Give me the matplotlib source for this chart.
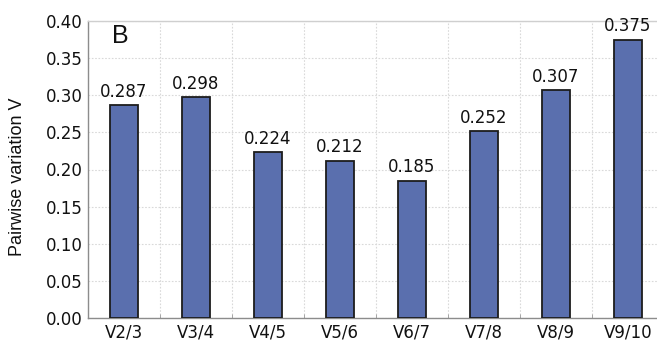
import matplotlib
matplotlib.use("Agg")
import matplotlib.pyplot as plt
import numpy as np

categories = ["V2/3", "V3/4", "V4/5", "V5/6", "V6/7", "V7/8", "V8/9", "V9/10"]
values = [0.287, 0.298, 0.224, 0.212, 0.185, 0.252, 0.307, 0.375]
ytick_values = [0.00, 0.05, 0.10, 0.15, 0.20, 0.25, 0.30, 0.35, 0.40]

W, H = 657, 342
fig = plt.figure(figsize=(W / 100, H / 100), dpi=100)
ax = fig.add_axes([88 / W, (H - 318) / H, 576 / W, 297 / H])

x = np.arange(len(categories))
ax.bar(x, values, width=0.4, color="#5A6FAE", edgecolor="#1c1c1c",
       linewidth=1.3, zorder=3)

for xi, v in zip(x, values):
    ax.annotate(f"{v:.3f}", (xi, v), xytext=(0, 3), textcoords="offset points",
                ha="center", va="bottom", fontsize=12,
                family="DejaVu Sans", color="#111111", zorder=4)

ax.set_xlim(-0.5, len(categories) - 0.5)
ax.set_ylim(0, 0.40)
ax.set_xticks(x)
ax.set_xticklabels(categories, fontsize=12, family="DejaVu Sans", color="#111111")
ax.set_xticks(np.arange(len(categories) + 1) - 0.5, minor=True)
ax.set_yticks(ytick_values)
ax.set_yticklabels([f"{t:.2f}" for t in ytick_values], fontsize=12,
                   family="DejaVu Sans", color="#111111")

ax.tick_params(axis="x", which="major", length=0, pad=4)
ax.tick_params(axis="x", which="minor", length=3, direction="in", color="#999999")
ax.tick_params(axis="y", which="major", length=0, pad=4)

ax.grid(True, axis="y", which="major", color="#d9d9d9", linestyle=(0, (1.5, 1.5)),
        linewidth=0.8, zorder=0)
ax.grid(True, axis="x", which="minor", color="#d9d9d9", linestyle=(0, (1.5, 1.5)),
        linewidth=0.8, zorder=0)

ax.spines["left"].set_color("#8c8c8c")
ax.spines["bottom"].set_color("#8c8c8c")
ax.spines["top"].set_color("#cfcfcf")
ax.spines["right"].set_color("#cfcfcf")
for s in ax.spines.values():
    s.set_linewidth(1.0)

fig.text(18 / W, 1 - 177 / H, "Pairwise variation V", rotation=90,
         ha="center", va="center", fontsize=13, family="Liberation Sans",
         color="#111111")
fig.text(120 / W, 1 - 36 / H, "B", ha="center", va="center", fontsize=18,
         family="Liberation Sans", color="#111111")

fig.savefig("out.png", dpi=100)
